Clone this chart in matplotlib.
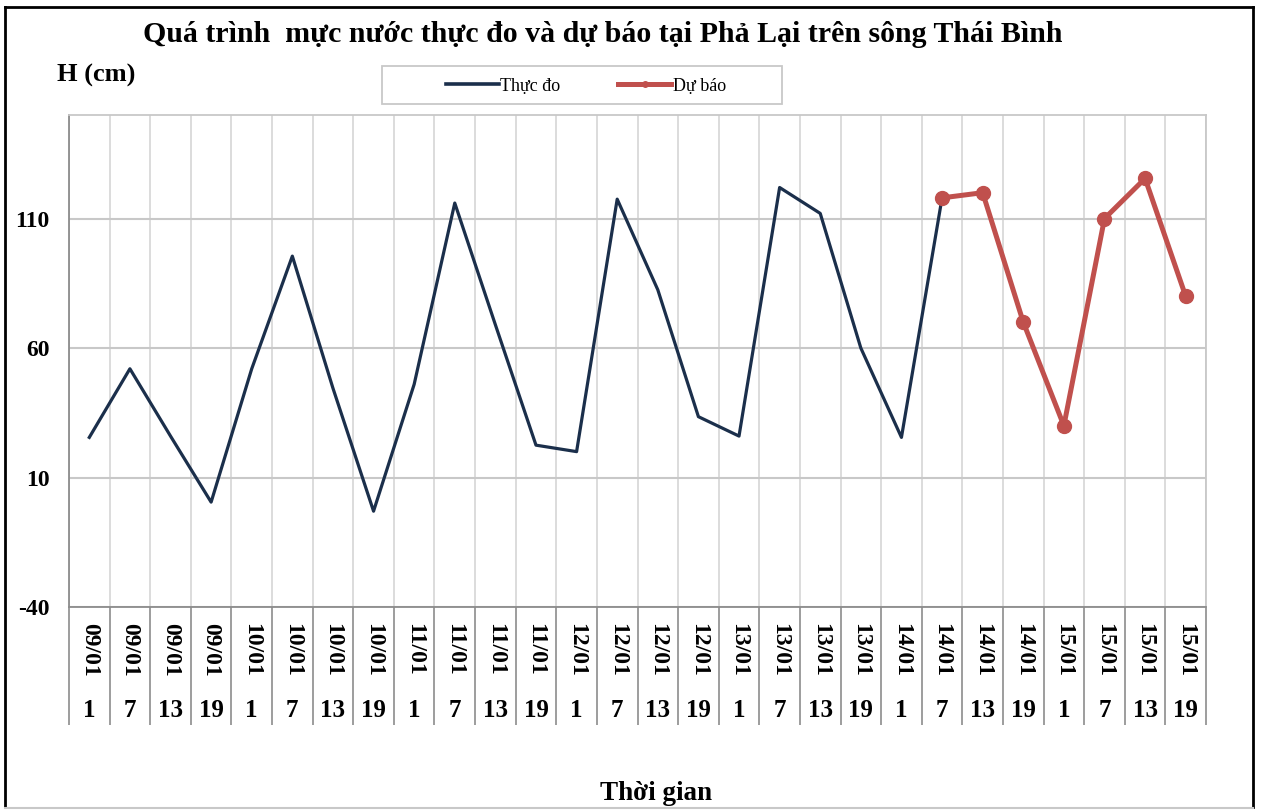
import matplotlib
matplotlib.use('Agg')
import matplotlib.pyplot as plt
from matplotlib.lines import Line2D
from matplotlib.patches import Rectangle
import numpy as np

# categories: day + hour
days = ['09/01'] * 4 + ['10/01'] * 4 + ['11/01'] * 4 + ['12/01'] * 4 + \
       ['13/01'] * 4 + ['14/01'] * 4 + ['15/01'] * 4
hours = ['1', '7', '13', '19'] * 7

# observed levels (09/01 1h -> 14/01 7h)
thuc_do = [25.5, 52, 26, 0.5, 52, 95.5, 44.5, -3, 46, 116, 69, 22.5,
           20, 117.5, 82.5, 33.5, 26, 122, 112, 60, 25.5, 118]
# forecast levels (14/01 7h -> 15/01 19h)
du_bao = [118, 120, 70, 30, 110, 125.5, 80]

yticks = [-40, 10, 60, 110]

W, H = 1263, 810
fig = plt.figure(figsize=(W / 100, H / 100), dpi=100)
plt.rcParams['font.family'] = ['Liberation Serif', 'DejaVu Serif']

ax = fig.add_axes([69 / W, 1 - 607 / H, (1206 - 69) / W, (607 - 115) / H])

n = len(days)
x = np.arange(n)
x_obs = x[:len(thuc_do)]
x_fc = x[n - len(du_bao):]

ax.plot(x_obs, thuc_do, color='#1b2f4b', linewidth=2.3, zorder=3)
ax.plot(x_fc, du_bao, color='#c0504d', linewidth=3.6, marker='o',
        markersize=10, zorder=4)

ax.set_xlim(-0.5, n - 0.5)
ax.set_ylim(-40, 150)
ax.set_yticks(yticks)
ax.set_yticklabels([str(v) for v in yticks], fontsize=17, fontweight='bold')
ax.tick_params(axis='y', length=0, pad=14)

# vertical lines at category boundaries, extended down through the label table
ax.set_xticks(x)
ax.set_xticklabels([])
ax.set_xticks(np.arange(-0.5, n, 1), minor=True)
ax.tick_params(axis='x', which='major', length=0)
ax.tick_params(axis='x', which='minor', length=85, width=1.2, color='#8c8c8c',
               direction='out')
ax.grid(axis='x', which='minor', color='#d9d9d9', linewidth=1.3)
ax.grid(axis='y', which='major', color='#c8c8c8', linewidth=1.5)
ax.set_axisbelow(True)

for s in ['top', 'right']:
    ax.spines[s].set_color('#c8c8c8')
    ax.spines[s].set_linewidth(1.3)
for s in ['left', 'bottom']:
    ax.spines[s].set_color('#8c8c8c')
    ax.spines[s].set_linewidth(1.3)

trans = ax.get_xaxis_transform()
for i in range(n):
    ax.text(x[i], -0.032, days[i], transform=trans, rotation=270,
            ha='center', va='top', fontsize=17, fontweight='bold')
    ax.text(x[i], -0.210, hours[i], transform=trans, ha='center',
            va='center', fontsize=18, fontweight='bold')

fig.text(603 / W, 1 - 35 / H,
         'Quá trình  mực nước thực đo và dự báo tại Phả Lại trên sông Thái Bình',
         ha='center', va='center', fontsize=21.5, fontweight='bold')
fig.text(57 / W, 1 - 75 / H, 'H (cm)', ha='left', va='center', fontsize=19,
         fontweight='bold')
fig.text(656 / W, 1 - 793 / H, 'Thời gian', ha='center', va='center',
         fontsize=19.5, fontweight='bold')

# legend
fig.add_artist(Rectangle((382 / W, 1 - 104 / H), (782 - 382) / W, 38 / H,
                         transform=fig.transFigure, facecolor='white',
                         edgecolor='#c8c8c8', linewidth=1.3))
handles = [Line2D([], [], color='#1b2f4b', linewidth=2.6),
           Line2D([], [], color='#c0504d', linewidth=3.6, marker='o',
                  markersize=4)]
leg = fig.legend(handles, ['Thực đo', 'Dự báo'], loc='center',
                 bbox_to_anchor=(586 / W, 1 - 86 / H),
                 ncol=2, fontsize=13, frameon=False,
                 handlelength=2.9, handletextpad=0.1, columnspacing=3.2)

# outer border of the chart
fig.add_artist(Line2D([5 / W, 5 / W], [1 - 807 / H, 1 - 7 / H], color='black',
                      linewidth=2, transform=fig.transFigure))
fig.add_artist(Line2D([5 / W, 1253 / W], [1 - 7 / H, 1 - 7 / H], color='black',
                      linewidth=2, transform=fig.transFigure))
fig.add_artist(Line2D([1253 / W, 1253 / W], [1 - 807 / H, 1 - 7 / H],
                      color='black', linewidth=2, transform=fig.transFigure))
fig.add_artist(Line2D([5 / W, 1253 / W], [1 - 808 / H, 1 - 808 / H],
                      color='#c8c8c8', linewidth=1.5, transform=fig.transFigure))

fig.savefig('out.png', dpi=100)
